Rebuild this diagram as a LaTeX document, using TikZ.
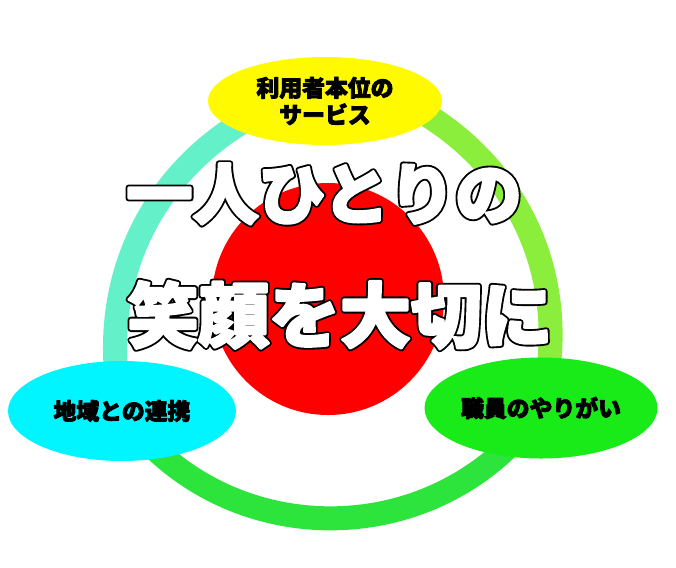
\documentclass[tikz,border=0pt]{standalone}
\usepackage{fontspec}
\usepackage{xcolor}
\usetikzlibrary{shapes.geometric,backgrounds}
\newfontfamily\jp{Noto Sans CJK JP}
\definecolor{bub1}{RGB}{255,250,0}
\definecolor{bub2}{RGB}{0,245,255}
\definecolor{bub3}{RGB}{25,235,25}
\definecolor{arc1}{RGB}{100,240,200}
\definecolor{arc2}{RGB}{45,228,60}
\definecolor{arc3}{RGB}{140,238,60}
\definecolor{core}{RGB}{255,0,0}
% stroked text: stroke colour, stroke width, text
\newcommand{\rim}[3]{\special{pdf:code #1 RG #2 w 1 j 2 Tr}#3}

\begin{document}
\begin{tikzpicture}[x=0.03cm, y=-0.03cm,
  bubble/.style={ellipse, inner sep=0pt, align=center, font=\jp\bfseries\fontsize{19.5pt}{23pt}\selectfont},
  band/.style={line width=0.72cm},
  slogan/.style={inner sep=0pt, font=\jp\bfseries\fontsize{#1}{#1}\selectfont}]
\begin{pgfonlayer}{background}
\fill[white] (0,0) rectangle (676,564);
\end{pgfonlayer}
\node[circle, fill=core, minimum size=6.96cm, inner sep=0pt] (hub) at (328,299) {};
\foreach \nm/\x/\y/\w/\h/\col/\txt in {user/325/101/234/88/bub1/{利用者本位の\\サービス},
  region/122/411/228/100/bub2/地域との連携, staff/541/408/233/101/bub3/職員のやりがい}
  \node[bubble, fill=\col, minimum width=\w*0.03cm, minimum height=\h*0.03cm] (\nm) at (\x,\y) {\rim{0 0 0}{0.7}{\txt}};
\coordinate (userL) at (284,101);
\coordinate (userR) at (402,101);
\begin{pgfonlayer}{background}
\draw[band, arc1] (userL) to[bend right=40] (region.center);
\draw[band, arc2] (region.center) to[bend right=55, looseness=1.08] (staff.center);
\draw[band, arc3] (staff.center) to[bend right=39] (userR);
\end{pgfonlayer}
% slogan: black rim under white face
\foreach \x/\y/\s/\txt [count=\N] in {324/194/56.5pt/一人ひとりの, 340/315/60.5pt/笑顔を大切に}
{\node[slogan=\s, text=black] (rim\N) at (\x,\y) {\rim{0 0 0}{5.4}{\txt}};
\node[slogan=\s, text=white] (line\N) at (\x,\y) {\rim{1 1 1}{2.2}{\txt}}; }
\end{tikzpicture}
\end{document}
